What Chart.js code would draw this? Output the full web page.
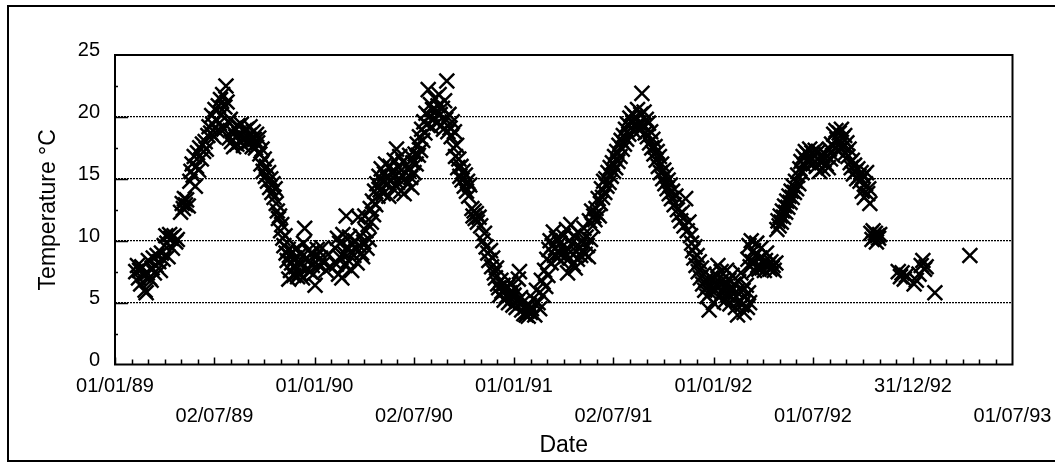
<!DOCTYPE html>
<html>
<head>
<meta charset="utf-8">
<script src="https://cdn.jsdelivr.net/npm/chart.js@4.4.1/dist/chart.umd.min.js"></script>
<style>
  html, body { margin: 0; padding: 0; background: #fff; overflow: hidden; }
  canvas { display: block; }
</style>
</head>
<body>
<canvas id="chart" width="1055" height="466"></canvas>
<script>
// Water temperature readings: [days since 01/01/89, temperature °C]
const temps1989 = [
  [38,7.5],[41,8.0],[43,7.0],[45,7.6],[47,6.5],[49,7.9],[52,7.2],[55,6.0],[57,5.8],[59,7.4],
  [61,8.4],[63,7.0],[66,6.8],[68,7.8],[70,8.6],[72,7.4],[75,8.0],[77,8.8],[80,8.3],[83,7.6],
  [85,9.0],[88,8.5],[90,9.6],[93,10.4],[95,9.8],[97,8.7],[100,10.5],[102,10.2],[105,9.4],[108,10.4],
  [111,9.9],[114,10.1],[120,12.3],[123,13.0],[125,12.6],[127,13.4],[129,12.9],[131,13.3],[134,12.8],
  [137,14.8],[139,15.6],[141,16.2],[143,15.3],[145,16.8],[147,14.4],[149,16.0],[151,17.1],[153,15.7],
  [155,17.5],[158,16.6],[160,17.8],[162,17.2],[165,18.0],[167,17.4],[170,18.5],[172,19.2],[175,18.7],
  [177,20.1],[179,19.4],[181,18.4],[183,20.6],[185,19.8],[187,18.9],[189,20.9],[191,19.5],[193,21.4],
  [195,20.2],[197,21.8],[199,19.0],[201,20.8],[203,22.5],[205,21.2],[207,19.6],[209,18.3],[211,19.8],
  [213,18.0],[215,18.8],[217,17.6],[219,19.1],[221,18.4],[223,17.8],[225,19.3],[227,18.6],[229,18.0],
  [231,19.4],[233,18.2],[235,17.7],[237,18.9],[239,18.3],[241,19.0],[243,17.9],[245,18.5],[247,19.2],
  [249,18.1],[251,17.6],[253,18.8],[255,18.2],[257,17.5],[259,18.6],[261,17.9],[263,18.3],
  [265,17.0],[267,16.2],[269,17.4],[271,15.6],[273,16.6],[275,15.2],[277,16.0],[279,14.8],[281,15.5],
  [283,14.3],[285,15.0],[287,13.9],[289,14.6],[291,13.5],[293,14.2],[295,13.0],[297,12.4],[299,11.8],
  [301,12.0],[303,10.8],[305,11.3],[307,10.2],[309,9.6],[311,10.4],[313,9.0],[315,8.4],[317,9.3],
  [318,6.9],[319,8.8],[321,7.6],[323,8.2],[325,9.1],[327,7.2],[329,8.6],[331,7.9],[333,9.4],[334,7.1],
  [335,8.3],[337,7.4],[339,8.9],[341,8.1],[343,7.0],[345,9.8],[347,11.0],[349,8.5],[351,7.7],[353,9.2],
  [355,8.4],[357,7.5],[359,9.0],[361,8.0],[363,7.3]
];
const temps1990 = [
  [366,6.4],[368,8.7],[370,9.3],[373,8.0],[376,8.6],[379,9.4],[382,8.2],[386,7.6],[390,8.9],[394,7.9],
  [403,9.4],[405,8.1],[407,10.2],[409,7.3],[411,9.8],[413,8.6],[415,7.0],[417,10.5],[419,9.0],[421,8.0],
  [423,12.0],[425,9.5],[427,8.4],[429,10.3],[431,9.1],[433,7.6],[435,9.7],[437,8.8],[439,10.0],[441,9.3],
  [443,8.2],[445,11.9],[447,9.6],[449,10.4],[451,9.0],[453,8.7],[455,9.9],[457,12.0],[459,10.8],[461,9.4],
  [463,11.3],[465,10.1],[467,12.6],[469,11.5],[471,13.2],[473,12.1],[475,14.0],[477,12.9],[479,14.6],
  [481,13.6],[483,15.2],[485,14.1],[487,15.8],[489,14.8],[491,13.8],[493,15.4],[495,16.2],[497,14.5],
  [499,15.0],[501,13.6],[503,16.0],[505,14.9],[507,15.6],[509,14.2],[511,16.5],[513,15.2],[515,17.4],
  [517,14.7],[519,15.9],[521,16.8],[523,14.0],[525,15.3],[527,16.4],[529,13.8],[531,15.0],[533,16.1],
  [535,14.6],[537,15.7],[539,16.9],[541,15.1],[543,14.3],[545,16.3],[547,15.5],[549,17.0],
  [551,16.2],[553,17.8],[555,16.9],[557,18.4],[559,17.3],[561,19.0],[563,18.1],[565,19.6],[567,18.7],
  [569,20.3],[571,19.4],[573,22.2],[575,20.0],[577,21.0],[579,19.2],[581,20.6],[583,19.8],[585,21.5],
  [587,20.4],[589,19.5],[591,20.9],[593,21.8],[595,20.2],[597,19.3],[599,20.7],[601,19.0],[603,21.3],
  [605,19.8],[607,22.9],[609,18.8],[611,20.2],[613,19.1],[615,18.4],[617,19.6],[619,17.5],[621,18.8],
  [623,16.8],[625,17.7],[627,15.9],[629,16.6],[631,15.2],[633,16.0],[635,14.9],[637,15.6],[639,14.4],
  [641,15.3],[643,14.0],[645,14.8],[647,13.6],[649,14.5],[653,12.6],[655,12.0],[657,12.4],[659,11.8],
  [661,12.2],[663,11.5],[666,11.9],[669,11.2],[673,10.0],[676,10.6],[679,9.5],[682,9.0],[684,8.4],
  [687,9.2],[689,7.9],[691,8.6],[694,7.4],[696,7.0],[698,7.8],[700,6.5],[702,6.2],[704,5.6],[706,6.8],
  [708,5.9],[710,6.4],[712,5.2],[714,6.0],[716,5.5],[718,6.3],[720,5.0],[722,5.8],[724,6.6],[726,5.3],
  [728,4.8]
];
const temps1991 = [
  [730,5.6],[732,6.1],[734,4.6],[736,5.1],[738,6.9],[740,7.5],[742,5.4],[744,4.4],[746,5.0],[748,4.1],
  [750,4.6],[752,4.0],[754,4.3],[756,3.9],[758,4.8],[760,4.2],[762,4.5],[765,5.3],[768,4.0],[771,6.0],
  [774,5.0],[777,4.5],[780,6.8],[783,5.6],[786,7.6],[788,6.3],[790,8.5],[792,7.2],[794,9.3],[796,10.0],
  [798,8.2],[800,9.6],[802,10.7],[804,8.8],[806,9.4],[808,10.2],[810,8.6],[812,9.0],[814,9.8],[816,8.4],
  [818,9.5],[820,10.4],[822,9.1],[824,8.7],[826,10.9],[828,7.4],[830,9.3],[832,8.6],[834,11.3],[836,9.8],
  [838,8.1],[840,10.4],[842,7.8],[844,9.1],[846,8.5],[848,10.6],[850,9.5],[852,8.8],[854,10.0],[856,9.2],
  [858,11.0],[860,8.9],[862,10.3],[864,9.6],[866,8.7],[868,11.6],[870,10.1],[872,12.4],[874,11.2],
  [876,12.0],[878,11.7],[880,12.6],[882,12.2],[884,13.4],[886,12.0],[888,13.0],[890,14.2],[892,13.5],
  [894,14.8],[896,13.9],[898,15.0],[900,14.4],[902,15.5],[904,14.7],[906,15.9],[908,15.2],[910,16.3],
  [912,15.6],[914,16.8],[916,15.9],[918,17.2],[920,16.4],[922,17.7],[924,16.8],[926,18.1],[928,17.4],
  [930,18.5],[932,17.8],[934,19.0],[936,18.2],[938,19.4],[940,18.6],[942,19.9],[944,19.1],[946,20.3],
  [948,19.6],[950,18.8],[952,20.0],[954,19.2],[956,20.6],[958,19.5],[960,18.9],[962,20.2],[964,21.9],
  [966,19.3],[968,20.4],[970,18.7],[972,19.8],[974,18.4],[976,19.5],[978,17.9],[980,18.8],[982,17.5],
  [984,18.2],[986,17.0],[988,17.6],[990,16.5],[992,17.2],[994,16.0],[996,16.8],[998,15.5],[1000,16.2],
  [1002,15.0],[1004,15.7],[1006,14.6],[1008,15.3],[1010,14.2],[1012,14.9],[1014,13.8],[1016,14.5],
  [1018,13.4],[1020,14.0],[1023,12.9],[1026,13.6],[1029,12.5],[1032,12.1],[1035,11.6],[1038,12.3],
  [1041,11.2],[1044,13.4],[1047,10.8],[1050,11.5],[1053,10.4],[1055,9.8],[1057,9.2],[1059,8.6],
  [1061,9.5],[1063,8.0],[1065,8.8],[1067,7.5],[1069,8.3],[1071,7.0],[1073,7.8],[1075,6.5],[1077,7.3],
  [1079,6.0],[1081,6.8],[1083,5.5],[1085,6.3],[1087,4.4],[1089,5.8],[1091,7.0],[1093,6.2]
];
const temps1992 = [
  [1095,5.0],[1097,6.6],[1099,6.0],[1101,7.2],[1103,8.0],[1105,5.4],[1107,6.6],[1109,7.5],[1111,5.8],
  [1113,6.9],[1115,5.1],[1117,6.3],[1119,7.6],[1121,5.6],[1123,6.8],[1125,4.9],[1127,6.1],[1129,7.2],
  [1131,5.3],[1133,6.5],[1135,4.6],[1137,5.9],[1139,4.0],[1141,6.7],[1143,5.2],[1145,7.4],[1147,4.8],
  [1149,6.0],[1151,4.2],[1153,5.5],[1155,6.4],[1157,4.6],[1159,5.8],[1161,5.0],[1158,8.5],[1160,9.6],
  [1162,7.9],[1164,10.0],[1166,8.3],[1168,9.2],[1170,7.6],[1172,8.8],[1174,9.8],[1176,8.0],[1178,7.7],
  [1180,8.6],[1182,9.4],[1184,7.8],[1186,8.2],[1188,7.6],[1190,8.4],[1192,9.0],[1194,7.9],[1196,8.1],
  [1198,7.7],[1200,8.3],[1202,7.8],[1204,8.0],[1206,7.6],[1209,8.2],[1211,10.9],[1213,11.6],[1215,11.2],
  [1217,12.0],[1219,11.5],[1221,12.4],[1223,11.9],[1225,12.8],[1227,12.3],[1229,13.2],[1231,12.7],
  [1233,13.6],[1235,13.1],[1237,14.0],[1239,13.5],[1241,14.4],[1243,13.9],[1245,14.8],[1247,14.2],
  [1249,15.3],[1251,14.6],[1253,15.8],[1255,16.4],[1257,15.5],[1259,16.8],[1261,16.1],[1263,17.2],
  [1265,16.5],[1267,17.0],[1269,16.3],[1271,17.4],[1273,16.7],[1275,17.1],[1277,16.2],[1279,16.9],
  [1281,17.3],[1283,16.0],[1285,16.6],[1287,17.2],[1289,15.6],[1291,16.4],[1293,16.9],[1295,15.8],
  [1297,16.5],[1299,17.0],[1301,16.2],[1303,16.8],[1305,15.9],[1307,17.4],[1309,16.6],[1311,17.8],
  [1313,16.9],[1315,18.6],[1317,17.5],[1319,18.9],[1321,18.2],[1323,17.3],[1325,18.7],[1327,17.8],
  [1329,19.0],[1331,18.3],[1333,17.6],[1335,18.5],[1337,17.1],[1339,17.9],[1341,16.8],[1343,17.4],
  [1345,16.3],[1347,15.9],[1349,16.5],[1351,15.4],[1353,16.1],[1355,15.6],[1357,15.0],[1359,15.8],
  [1361,15.2],[1363,14.8],[1365,15.5],[1367,14.0],[1369,15.2],[1371,13.5],[1373,14.6],[1375,15.5],
  [1377,13.8],[1379,14.2],[1381,13.0],[1383,10.6],[1385,10.1],[1387,10.8],[1389,10.3],[1391,10.6],
  [1393,9.9],[1395,10.4],[1397,10.2],[1399,10.5],[1433,7.5],[1437,7.1],[1440,7.4],[1444,6.9],[1448,7.2]
];
const temps1993 = [
  [1462,6.5],[1466,6.8],[1471,7.3],[1475,8.0],[1478,8.4],[1481,7.7],[1484,7.9],[1500,5.8],[1564,8.8]
];

// Date axis: tick positions (days since 01/01/89) and their labels
const tickDays = [0, 182, 365, 547, 730, 912, 1095, 1277, 1460, 1642];
const tickLabels = ['01/01/89', '02/07/89', '01/01/90', '02/07/90', '01/01/91',
                    '02/07/91', '01/01/92', '01/07/92', '31/12/92', '01/07/93'];
const tempMin = 0, tempMax = 25, tempStep = 5;

const FONT = "'Liberation Sans', Arial, Helvetica, sans-serif";

const points = [...temps1989, ...temps1990, ...temps1991, ...temps1992, ...temps1993]
  .map(([d, t]) => ({ x: d, y: t }));

// White page with an outer frame
const pageFrame = {
  id: 'pageFrame',
  beforeDraw(chart) {
    const ctx = chart.ctx;
    ctx.save();
    ctx.fillStyle = '#fff';
    ctx.fillRect(0, 0, chart.width, chart.height);
    ctx.strokeStyle = '#000';
    ctx.lineWidth = 2;
    ctx.strokeRect(8, 6, chart.width + 40, 455);
    ctx.restore();
  }
};

// Plot frame plus inward major/minor tick marks on both axes
const axisMarks = {
  id: 'axisMarks',
  afterDraw(chart) {
    const { ctx, chartArea: a, scales: { x, y } } = chart;
    ctx.save();
    ctx.strokeStyle = '#000';
    ctx.lineWidth = 2;
    ctx.strokeRect(a.left, a.top, a.right - a.left, a.bottom - a.top);
    ctx.lineWidth = 1.5;
    ctx.beginPath();
    for (let i = 0; i < tickDays.length - 1; i++) {
      const d0 = tickDays[i], d1 = tickDays[i + 1];
      for (let k = 0; k < 6; k++) {
        const px = Math.round(x.getPixelForValue(d0 + (d1 - d0) * k / 6)) + 0.5;
        const len = k === 0 ? 7 : 5;
        ctx.moveTo(px, a.bottom);
        ctx.lineTo(px, a.bottom - len);
      }
    }
    for (let v = tempMin + tempStep / 2; v < tempMax; v += tempStep / 2) {
      const py = Math.round(y.getPixelForValue(v)) + 0.5;
      const len = (v % tempStep === 0) ? 13 : 3;
      ctx.moveTo(a.left, py);
      ctx.lineTo(a.left + len, py);
    }
    ctx.stroke();
    ctx.restore();
  }
};

new Chart(document.getElementById('chart'), {
  type: 'scatter',
  data: {
    datasets: [{
      data: points,
      pointStyle: 'crossRot',
      pointRadius: 10.5,
      pointHoverRadius: 10.5,
      borderColor: '#000',
      backgroundColor: '#000',
      borderWidth: 2.5,
      pointBorderWidth: 2.5
    }]
  },
  options: {
    responsive: false,
    animation: false,
    devicePixelRatio: 1,
    events: [],
    layout: { padding: { top: 55, right: 42.5, bottom: 0, left: 0 } },
    plugins: { legend: { display: false }, tooltip: { enabled: false } },
    scales: {
      x: {
        type: 'linear',
        min: tickDays[0],
        max: tickDays[tickDays.length - 1],
        afterBuildTicks(scale) {
          scale.ticks = tickDays.map(v => ({ value: v }));
        },
        afterFit(scale) {
          scale.height = 101.5;
          scale.paddingLeft = 0;
          scale.paddingRight = 0;
        },
        grid: { display: false, drawTicks: false },
        border: { display: false },
        ticks: {
          autoSkip: false,
          maxRotation: 0,
          minRotation: 0,
          padding: 6.5,
          color: '#000',
          font: { family: FONT, size: 20, lineHeight: 1.5 },
          callback: (v, i) => (i % 2 === 0 ? [tickLabels[i]] : ['', tickLabels[i]])
        },
        title: {
          display: true,
          text: 'Date',
          color: '#000',
          font: { family: FONT, size: 23 },
          padding: { top: 0, bottom: 7 }
        }
      },
      y: {
        min: tempMin,
        max: tempMax,
        afterFit(scale) { scale.width = 115; },
        grid: {
          drawTicks: false,
          lineWidth: 1.2,
          borderDash: [2, 1],
          color: c => (c.tick && c.tick.value > tempMin && c.tick.value < tempMax) ? '#000' : 'rgba(0,0,0,0)'
        },
        border: { display: false, dash: [2, 1] },
        ticks: {
          stepSize: tempStep,
          padding: 15,
          labelOffset: -4.5,
          color: '#000',
          font: { family: FONT, size: 20 }
        },
        title: {
          display: true,
          text: 'Temperature °C',
          color: '#000',
          font: { family: FONT, size: 23 },
          padding: { top: 35, bottom: 0 }
        }
      }
    }
  },
  plugins: [pageFrame, axisMarks]
});
</script>
</body>
</html>
